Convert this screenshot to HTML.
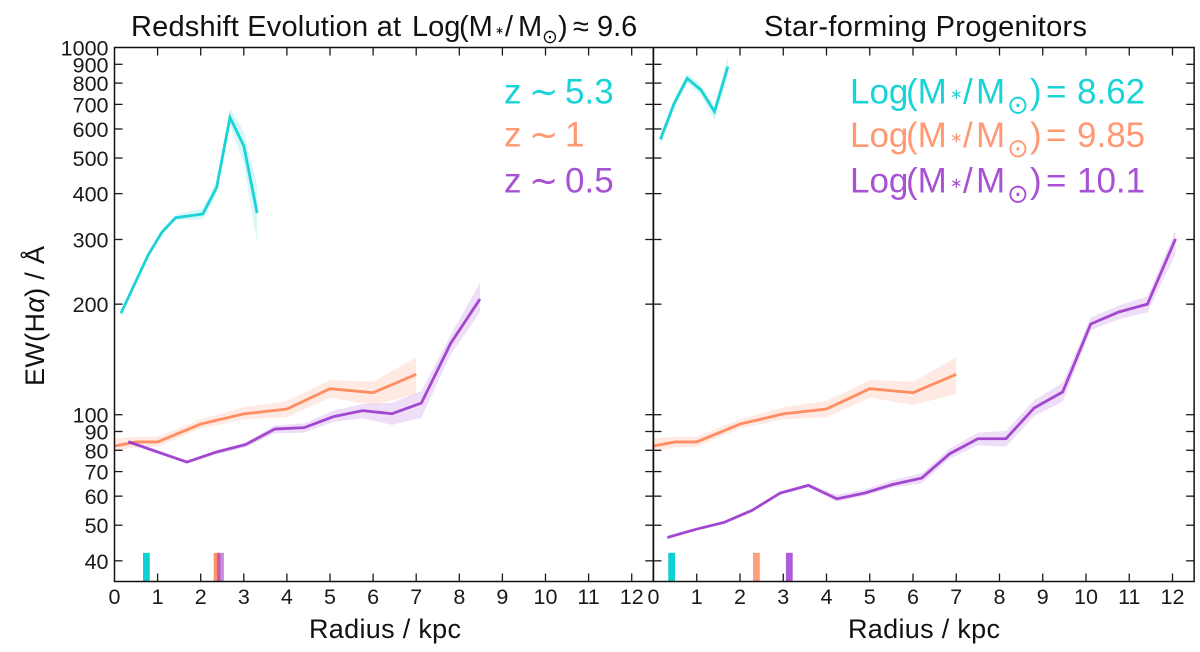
<!DOCTYPE html>
<html lang="en">
<head>
<meta charset="utf-8">
<title>EW(Hα) radial profiles</title>
<style>
html,body{margin:0;padding:0;background:#fff;width:1200px;height:652px;overflow:hidden}
svg{display:block;font-family:"Liberation Sans","DejaVu Sans",sans-serif}
.tick-label{font-size:21.5px;fill:#1a1a1a}
.axis-title{font-size:27px;fill:#111}
.panel-title{font-size:29px;fill:#111}
.legend{font-size:35px}
.sun{font-family:"DejaVu Sans",sans-serif}
</style>
</head>
<body>
<svg id="chart" xmlns="http://www.w3.org/2000/svg" width="1200" height="652" viewBox="0 0 1200 652">
  <rect width="1200" height="652" fill="#fff"/>
  <g id="marks"></g>
  <g id="axes"></g>

  <text class="panel-title" y="36"><tspan x="131" textLength="270" lengthAdjust="spacing">Redshift Evolution at</tspan><tspan x="412">Log</tspan><tspan x="459">(M</tspan><tspan x="495" y="34" font-size="11">∗</tspan><tspan x="505" y="36">/</tspan><tspan x="518">M</tspan><tspan class="sun" x="542" y="43" font-size="19">⊙</tspan><tspan x="558" y="36">)</tspan><tspan x="573">≈</tspan><tspan x="597">9.6</tspan></text>
  <text class="panel-title" x="764" y="36" textLength="323" lengthAdjust="spacing">Star-forming Progenitors</text>

  <text class="axis-title" x="309" y="638" textLength="152">Radius / kpc</text>
  <text class="axis-title" x="848" y="638" textLength="152">Radius / kpc</text>
  <text class="axis-title" transform="translate(44,386) rotate(-90)" textLength="140">EW(H<tspan font-style="italic">α</tspan>) / Å</text>

  <g class="legend">
    <text y="103.5" fill="#00CED1" fill-opacity=".9"><tspan x="504">z</tspan><tspan x="529">∼</tspan><tspan x="565">5.3</tspan></text>
    <text y="146.5" fill="#FF7F50" fill-opacity=".8"><tspan x="504">z</tspan><tspan x="529">∼</tspan><tspan x="565">1</tspan></text>
    <text y="192.5" fill="#9932CC" fill-opacity=".85"><tspan x="504">z</tspan><tspan x="529">∼</tspan><tspan x="565">0.5</tspan></text>
  </g>

  <g class="legend">
    <text fill="#00CED1" fill-opacity=".9"><tspan x="850" y="103.5">Log</tspan><tspan x="906">(M</tspan><tspan x="950" y="99" font-size="15">∗</tspan><tspan x="963" y="103.5">/</tspan><tspan x="976">M</tspan><tspan class="sun" x="1007" y="113.5" font-size="26">⊙</tspan><tspan x="1030" y="103.5">)</tspan><tspan x="1046">=</tspan><tspan x="1077">8.62</tspan></text>
    <text fill="#FF7F50" fill-opacity=".8"><tspan x="850" y="147">Log</tspan><tspan x="906">(M</tspan><tspan x="950" y="142.5" font-size="15">∗</tspan><tspan x="963" y="147">/</tspan><tspan x="976">M</tspan><tspan class="sun" x="1007" y="157" font-size="26">⊙</tspan><tspan x="1030" y="147">)</tspan><tspan x="1046">=</tspan><tspan x="1077">9.85</tspan></text>
    <text fill="#9932CC" fill-opacity=".85"><tspan x="850" y="192.5">Log</tspan><tspan x="906">(M</tspan><tspan x="950" y="188" font-size="15">∗</tspan><tspan x="963" y="192.5">/</tspan><tspan x="976">M</tspan><tspan class="sun" x="1007" y="202.5" font-size="26">⊙</tspan><tspan x="1030" y="192.5">)</tspan><tspan x="1046">=</tspan><tspan x="1077">10.1</tspan></text>
  </g>
</svg>

<script>
// ---- axis labels ----
const radiusTicks = [0,1,2,3,4,5,6,7,8,9,10,11,12];
const ewTicks = [40,50,60,70,80,90,100,200,300,400,500,600,700,800,900,1000];
const ewLabels = ['40','50','60','70','80','90','100','200','300','400','500','600','700','800','900','1000'];

// ---- left panel: redshift evolution ----
const leftCyanRadius = [0.15,0.78,1.1,1.42,2.05,2.37,2.68,3.0,3.31];
const leftCyanEw = [189,272,314,344,352,416,645,540,354];
const leftCyanUpper = [191,276,319,351,365,435,684,590,422];
const leftCyanLower = [187,268,310,339,340,402,612,484,293];

const leftOrangeRadius = [0,0.5,1,2,3,4,5,6,7];
const leftOrangeEw = [82.2,84.3,84.3,94.3,100.5,103.6,117.7,114.8,128.8];
const leftOrangeUpper = [86.2,87,87.1,97.1,104.8,109,124.3,123,143.4];
const leftOrangeLower = [79.8,81.5,81.8,91.8,97.1,98.4,111.3,106.3,113.9];

const leftPurpleRadius = [0.32,1.0,1.68,2.36,3.04,3.72,4.4,5.08,5.76,6.44,7.12,7.8,8.48];
const leftPurpleEw = [84.4,79.2,74.3,79.1,82.9,91.4,92.2,98.8,102.6,100.6,107.6,156.4,206.5];
const leftPurpleUpper = [85,80,75,80,84,93.5,94.7,102.6,106.9,107.8,116,164.8,228.5];
const leftPurpleLower = [83.5,78.2,73.6,78,81.5,89,89.3,95.5,97.8,93.8,98.1,146,190];

const leftMarkerRadii = [0.74,2.38,2.46];
const leftMarkerAlpha = [0.95,0.85,0.55];

// ---- right panel: star-forming progenitors ----
const rightCyanRadius = [0.16,0.48,0.78,1.1,1.41,1.72];
const rightCyanEw = [562,705,824,766,669,887];
const rightCyanUpper = [580,725,850,790,690,948];
const rightCyanLower = [542,685,802,742,635,833];

const rightOrangeRadius = [0,0.5,1,2,3,4,5,6,7];
const rightOrangeEw = [82.2,84.3,84.3,94.3,100.5,103.6,117.7,114.8,128.8];
const rightOrangeUpper = [86.2,87,87.1,97.1,104.8,109,124.3,123,143.4];
const rightOrangeLower = [79.8,81.5,81.8,91.8,97.1,98.4,111.3,106.3,113.9];

const rightPurpleRadius = [0.32,0.97,1.63,2.28,2.93,3.58,4.24,4.89,5.54,6.2,6.85,7.5,8.15,8.8,9.46,10.11,10.76,11.42,12.07];
const rightPurpleEw = [46.3,48.7,50.9,54.9,61.2,64.2,59,61.2,64.6,67.2,78.3,86,86,104.3,115.3,176.6,190.4,200,301];
const rightPurpleUpper = [46.6,49,51.3,55.4,61.8,64.9,60.5,62.6,66.4,69.2,80.9,89.3,90.4,109.6,122.2,184,198,210,318];
const rightPurpleLower = [46,48.4,50.5,54.4,60.6,63.5,58,60.2,63.4,65,76,82.5,81.8,99.2,108.5,170,182,190,274];

const rightMarkerRadii = [0.42,2.38,3.14];
const rightMarkerAlpha = [0.95,0.75,0.8];

// ---- colours ----
const cyan = '#00CED1';
const orange = '#FF7F50';
const purple = '#9932CC';
const seriesColors = [cyan, orange, purple];

// ---- axis functions ----
const NS = 'http://www.w3.org/2000/svg';
const marks = document.getElementById('marks');
const axes = document.getElementById('axes');
const leftPxPerKpc = 43.1;
const rightPxPerKpc = 43.25;
const leftX0 = 114.5;
const rightX0 = 653.5;
const leftEdge = leftX0 + 12.5 * leftPxPerKpc;
const rightEdge = rightX0 + 12.5 * rightPxPerKpc;
const yTop = 47.5;
const yBottom = 581.5;
const pxPerDecade = 367.2;
function xLeft(r){ return leftX0 + r * leftPxPerKpc; }
function xRight(r){ return rightX0 + r * rightPxPerKpc; }
function yEw(v){ return yTop + pxPerDecade * (3 - Math.log10(v)); }

function svgEl(tag, attrs, parent){
  const el = document.createElementNS(NS, tag);
  for (const k in attrs) el.setAttribute(k, attrs[k]);
  parent.appendChild(el);
  return el;
}

function drawSeries(xf, radius, ew, upper, lower, color, name){
  const top = radius.map((r,i)=>xf(r).toFixed(2)+','+yEw(upper[i]).toFixed(2));
  const bot = radius.map((r,i)=>xf(r).toFixed(2)+','+yEw(lower[i]).toFixed(2)).reverse();
  const band = svgEl('polygon', {points: top.concat(bot).join(' '), fill: color, 'fill-opacity': 0.16, stroke: 'none'}, marks);
  
  
  const pts = radius.map((r,i)=>xf(r).toFixed(2)+','+yEw(ew[i]).toFixed(2)).join(' ');
  const line = svgEl('polyline', {points: pts, fill: 'none', stroke: color, 'stroke-width': 2.8, 'stroke-opacity': 0.88, 'stroke-linejoin': 'miter'}, marks);
  
  
}

function drawMarkers(xf, radii, alphas, panel){
  radii.forEach((r,i)=>{
    const m = svgEl('rect', {x: xf(r)-3.4, y: yEw(40)-8, width: 6.8, height: yBottom-yEw(40)+8, fill: seriesColors[i], 'fill-opacity': alphas[i]}, marks);
    
    
  });
}

drawSeries(xLeft, leftOrangeRadius, leftOrangeEw, leftOrangeUpper, leftOrangeLower, orange, 'left-orange');
drawSeries(xLeft, leftPurpleRadius, leftPurpleEw, leftPurpleUpper, leftPurpleLower, purple, 'left-purple');
drawSeries(xLeft, leftCyanRadius, leftCyanEw, leftCyanUpper, leftCyanLower, cyan, 'left-cyan');
drawSeries(xRight, rightOrangeRadius, rightOrangeEw, rightOrangeUpper, rightOrangeLower, orange, 'right-orange');
drawSeries(xRight, rightPurpleRadius, rightPurpleEw, rightPurpleUpper, rightPurpleLower, purple, 'right-purple');
drawSeries(xRight, rightCyanRadius, rightCyanEw, rightCyanUpper, rightCyanLower, cyan, 'right-cyan');
drawMarkers(xLeft, leftMarkerRadii, leftMarkerAlpha, 'left');
drawMarkers(xRight, rightMarkerRadii, rightMarkerAlpha, 'right');

// ---- ticks, labels, frames ----
function tickLine(x1, y1, x2, y2, name){
  const t = svgEl('line', {x1:x1, y1:y1, x2:x2, y2:y2, stroke:'#1a1a1a', 'stroke-width':1.3}, axes);
  
  
}

function drawXAxis(xf, panel){
  radiusTicks.forEach(r=>{
    if (r > 0) {
      tickLine(xf(r), yBottom, xf(r), yBottom-8, panel + '-x-tick');
      tickLine(xf(r), yTop, xf(r), yTop+8, panel + '-x-top-tick');
    }
    const lab = svgEl('text', {x: xf(r), y: 604, 'text-anchor': 'middle', class: 'tick-label'}, axes);
    lab.textContent = String(r);
    
    
  });
}

function drawYTicks(x0, x1, panel){
  ewTicks.forEach(v=>{
    if (v === 1000) return;
    tickLine(x0, yEw(v), x0+8, yEw(v), panel + '-y-tick');
    tickLine(x1, yEw(v), x1-8, yEw(v), panel + '-y-right-tick');
  });
}

function drawFrame(x0, x1, panel){
  const f = svgEl('rect', {x:x0, y:yTop, width:x1-x0, height:yBottom-yTop, fill:'none', stroke:'#111', 'stroke-width':1.5}, axes);
  
  
}

drawXAxis(xLeft, 'left');
drawXAxis(xRight, 'right');
drawYTicks(leftX0, leftEdge, 'left');
drawYTicks(rightX0, rightEdge, 'right');
drawFrame(leftX0, leftEdge, 'left');
drawFrame(rightX0, rightEdge, 'right');

ewTicks.forEach((v,i)=>{
  const lab = svgEl('text', {x: 108.5, y: yEw(v)+8, 'text-anchor': 'end', class: 'tick-label'}, axes);
  lab.textContent = ewLabels[i];
  
  
});
</script>
</body>
</html>
